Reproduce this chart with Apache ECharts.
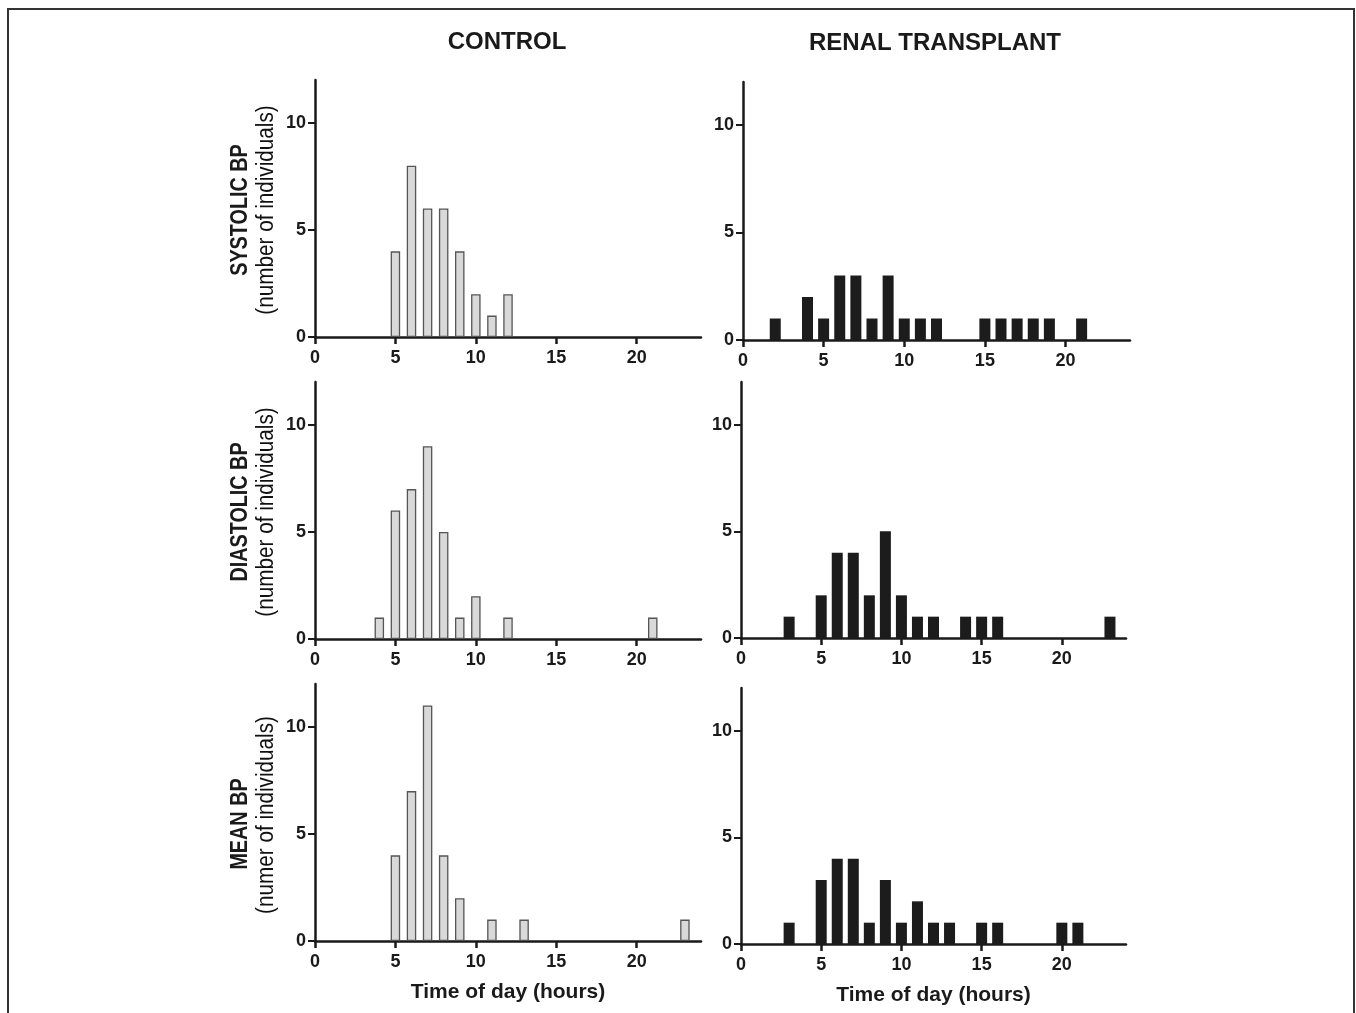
<!DOCTYPE html>
<html>
<head>
<meta charset="utf-8">
<style>
html,body{margin:0;padding:0;background:#fff;}
#chart{width:1356px;height:1013px;}
</style>
<script src="https://cdn.jsdelivr.net/npm/echarts@6/dist/echarts.min.js"></script>
</head>
<body>
<div id="chart"></div>
<script>
// ---- data ----
const columnTitles = ['CONTROL', 'RENAL TRANSPLANT'];
const rowTitles = ['SYSTOLIC BP', 'DIASTOLIC BP', 'MEAN BP'];
const rowSubtitles = ['(number of individuals)', '(number of individuals)', '(numer of individuals)'];
const xAxisTitle = 'Time of day (hours)';
const xTicks = [0, 5, 10, 15, 20];
const yTicks = [0, 5, 10];

const ctrlSysHours   = [5, 6, 7, 8, 9, 10, 11, 12];
const ctrlSysCounts  = [4, 8, 6, 6, 4, 2, 1, 2];
const renalSysHours  = [2, 4, 5, 6, 7, 8, 9, 10, 11, 12, 15, 16, 17, 18, 19, 21];
const renalSysCounts = [1, 2, 1, 3, 3, 1, 3, 1, 1, 1, 1, 1, 1, 1, 1, 1];

const ctrlDiaHours   = [4, 5, 6, 7, 8, 9, 10, 12, 21];
const ctrlDiaCounts  = [1, 6, 7, 9, 5, 1, 2, 1, 1];
const renalDiaHours  = [3, 5, 6, 7, 8, 9, 10, 11, 12, 14, 15, 16, 23];
const renalDiaCounts = [1, 2, 4, 4, 2, 5, 2, 1, 1, 1, 1, 1, 1];

const ctrlMeanHours   = [5, 6, 7, 8, 9, 11, 13, 23];
const ctrlMeanCounts  = [4, 7, 11, 4, 2, 1, 1, 1];
const renalMeanHours  = [3, 5, 6, 7, 8, 9, 10, 11, 12, 13, 15, 16, 20, 21];
const renalMeanCounts = [1, 3, 4, 4, 1, 3, 1, 2, 1, 1, 1, 1, 1, 1];

// ---- layout ----
const panels = [
  {hours: ctrlSysHours,  counts: ctrlSysCounts,  renal: false, grid: {left: 315, top: 80,  width: 386, height: 257}},
  {hours: renalSysHours, counts: renalSysCounts, renal: true,  grid: {left: 743, top: 82,  width: 387, height: 258}},
  {hours: ctrlDiaHours,  counts: ctrlDiaCounts,  renal: false, grid: {left: 315, top: 382, width: 386, height: 257}},
  {hours: renalDiaHours, counts: renalDiaCounts, renal: true,  grid: {left: 741, top: 382, width: 385, height: 256}},
  {hours: ctrlMeanHours, counts: ctrlMeanCounts, renal: false, grid: {left: 315, top: 684, width: 386, height: 257}},
  {hours: renalMeanHours,counts: renalMeanCounts,renal: true,  grid: {left: 741, top: 688, width: 385, height: 256}}
];

const axisColor = '#1a1a1a';
const labelFont = {fontFamily: '"Liberation Sans", Arial, sans-serif', fontWeight: 'bold', fontSize: 18, color: '#1a1a1a'};

const grids = [], xAxes = [], yAxes = [], series = [];
panels.forEach((p, i) => {
  grids.push(Object.assign({containLabel: false}, p.grid));
  const isBottom = i >= 4;
  xAxes.push({
    type: 'value', gridIndex: i, min: 0, max: 24,
    name: isBottom ? xAxisTitle : '',
    nameLocation: 'middle', nameGap: 41,
    nameTextStyle: {fontFamily: '"Liberation Sans", Arial, sans-serif', fontWeight: 'bold', fontSize: 21, color: '#1a1a1a'},
    axisLine: {show: true, onZero: false, lineStyle: {color: axisColor, width: 2.5}},
    axisTick: {show: true, length: 7, inside: false, customValues: xTicks, lineStyle: {color: axisColor, width: 2.5}},
    axisLabel: Object.assign({customValues: xTicks, margin: 12}, labelFont),
    splitLine: {show: false}
  });
  yAxes.push({
    type: 'value', gridIndex: i, min: 0, max: 12,
    axisLine: {show: true, onZero: false, lineStyle: {color: axisColor, width: 2.5}},
    axisTick: {show: true, length: 7, inside: false, customValues: yTicks, lineStyle: {color: axisColor, width: 2}},
    axisLabel: Object.assign({customValues: yTicks, margin: 9}, labelFont),
    splitLine: {show: false}
  });
  series.push({
    type: 'bar', xAxisIndex: i, yAxisIndex: i,
    barWidth: p.renal ? 11 : 9.5,
    data: p.hours.map((h, k) => [h, p.counts[k]]),
    itemStyle: p.renal
      ? {color: '#1c1c1c', borderWidth: 0}
      : {color: '#d9d9d9', borderColor: '#555555', borderWidth: 1.3},
    silent: true, animation: false
  });
});

const graphic = [
  {type: 'rect', shape: {x: 8, y: 9, width: 1346, height: 1100}, style: {fill: 'none', stroke: '#333', lineWidth: 2}, silent: true},
  {type: 'text', x: 507, y: 42, style: {text: columnTitles[0], font: 'bold 24px "Liberation Sans", Arial, sans-serif', fill: '#1a1a1a', align: 'center', verticalAlign: 'middle'}},
  {type: 'text', x: 935, y: 43, style: {text: columnTitles[1], font: 'bold 24px "Liberation Sans", Arial, sans-serif', fill: '#1a1a1a', align: 'center', verticalAlign: 'middle'}}
];
const rowCenters = [210, 512, 824];
const subCenters = [210, 512, 815];
rowTitles.forEach((t, r) => {
  graphic.push({type: 'text', x: 241, y: rowCenters[r], rotation: Math.PI / 2, scaleX: 0.86,
    style: {text: t, font: 'bold 23px "Liberation Sans", Arial, sans-serif', fill: '#1a1a1a', align: 'center', verticalAlign: 'middle'}});
  graphic.push({type: 'text', x: 267, y: subCenters[r], rotation: Math.PI / 2, scaleX: 0.9,
    style: {text: rowSubtitles[r], font: '23px "Liberation Sans", Arial, sans-serif', fill: '#111', align: 'center', verticalAlign: 'middle'}});
});

const chart = echarts.init(document.getElementById('chart'), null, {renderer: 'canvas'});
chart.setOption({
  animation: false,
  backgroundColor: '#ffffff',
  grid: grids,
  xAxis: xAxes,
  yAxis: yAxes,
  series: series,
  graphic: graphic
});
</script>
</body>
</html>
